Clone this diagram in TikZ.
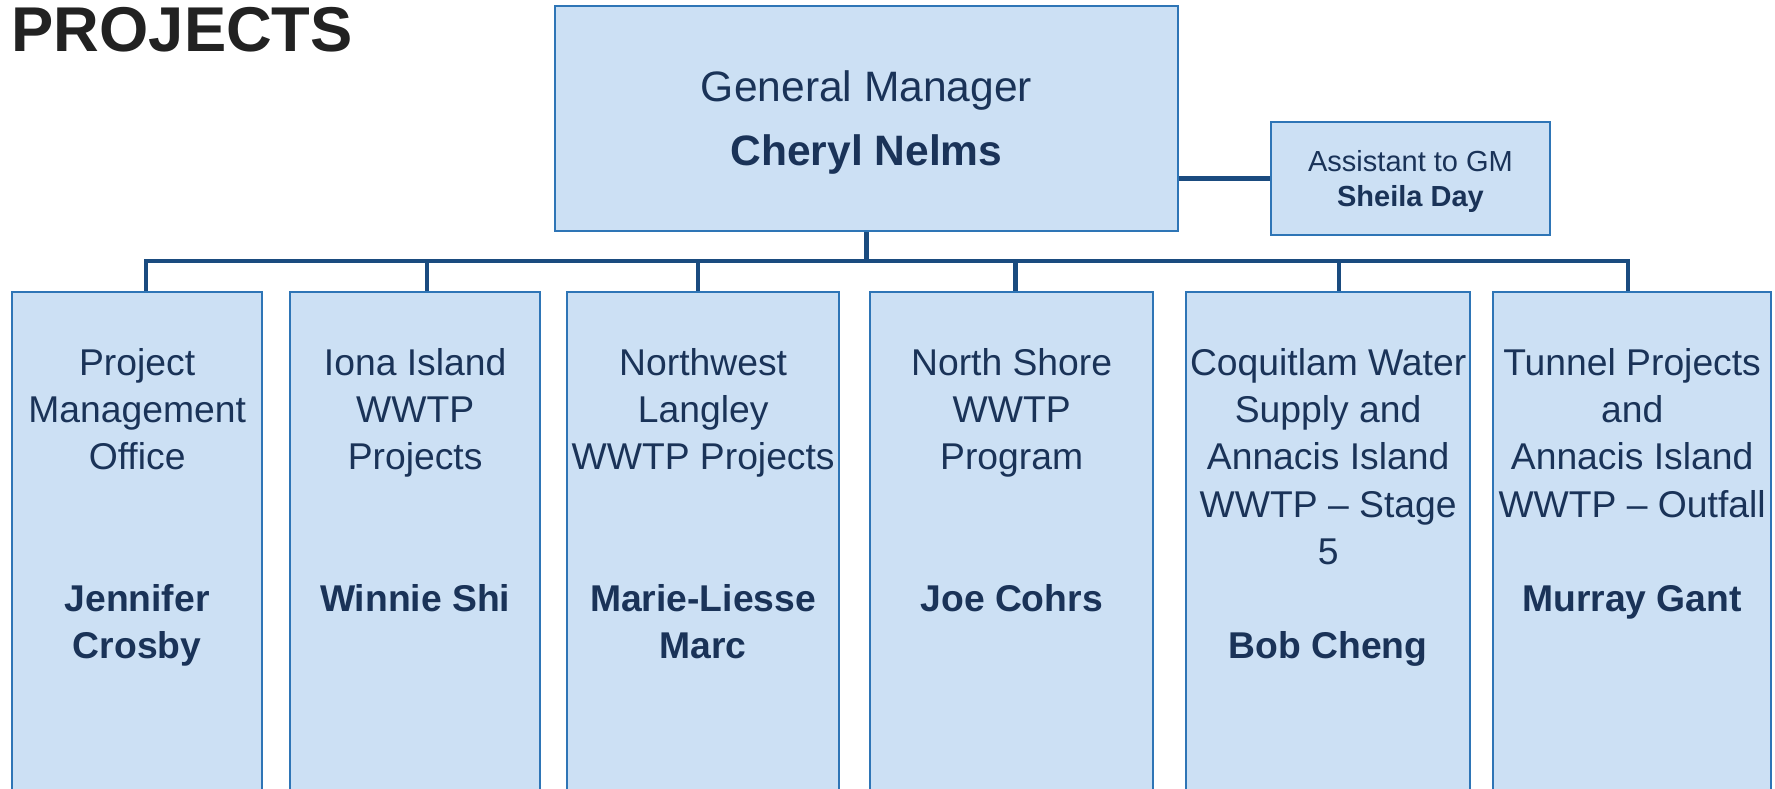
\documentclass[tikz,border=0pt]{standalone}
\usepackage{fontspec}
\setmainfont{Liberation Sans}
\usetikzlibrary{positioning,calc}
\definecolor{boxfill}{HTML}{CCE0F4}
\definecolor{boxline}{HTML}{2E75B6}
\definecolor{linkblue}{HTML}{1A4B7F}
\definecolor{navy}{HTML}{1A3358}
\definecolor{ink}{HTML}{222222}
\begin{document}
\begin{tikzpicture}[x=0.01cm,y=-0.01cm,
   unit/.style={draw=boxline,fill=boxfill,line width=0.6pt,inner sep=0pt,
                minimum height=5.19cm,anchor=north west},
   lbl/.style={inner sep=0pt,align=center,text=navy,font=\fontsize{10.6}{13.4}\selectfont},
   link/.style={draw=linkblue,line width=1.3pt}]
  \useasboundingbox (0,0) rectangle (1775,789);
  \clip (0,0) rectangle (1775,789);
  \node[anchor=base west,inner sep=0pt,text=ink,font=\fontsize{18}{22}\selectfont\bfseries] (title) at (11,52) {PROJECTS};
  % top level
  \node[draw=boxline,fill=boxfill,line width=0.6pt,minimum width=6.23cm,minimum height=2.25cm,
        align=center,text depth=0pt,text=navy,font=\fontsize{12.1}{18.2}\selectfont] (gm) at (866.5,118.5)
        {General Manager\\\textbf{Cheryl Nelms}};
  \node[draw=boxline,fill=boxfill,line width=0.6pt,minimum width=2.79cm,minimum height=1.13cm,
        align=center,text depth=0pt,text=navy,font=\fontsize{8.25}{10}\selectfont] (asst) at (1410.5,178.5)
        {Assistant to GM\\\textbf{Sheila Day}};
  % project units
  \node[unit,minimum width=2.50cm] (pmo) at (11,291) {};
  \node[unit,minimum width=2.50cm] (iona) at (289,291) {};
  \node[unit,minimum width=2.72cm] (nwl) at (566,291) {};
  \node[unit,minimum width=2.83cm] (nshore) at (869,291) {};
  \node[unit,minimum width=2.84cm] (coq) at (1185,291) {};
  \node[unit,minimum width=2.78cm] (tunnel) at (1492,291) {};
  \node[lbl,below=0.57cm of pmo.north] (pmo-t)
    {Project\\Management\\Office\\[26.8pt]\textbf{Jennifer}\\\textbf{Crosby}};
  \node[lbl,below=0.57cm of iona.north] (iona-t)
    {Iona Island\\WWTP\\Projects\\[26.8pt]\textbf{Winnie Shi}};
  \node[lbl,below=0.57cm of nwl.north] (nwl-t)
    {Northwest\\Langley\\WWTP Projects\\[26.8pt]\textbf{Marie-Liesse}\\\textbf{Marc}};
  \node[lbl,below=0.57cm of nshore.north] (nshore-t)
    {North Shore\\WWTP\\Program\\[26.8pt]\textbf{Joe Cohrs}};
  \node[lbl,below=0.57cm of coq.north] (coq-t)
    {Coquitlam Water\\Supply and\\Annacis Island\\WWTP – Stage\\5\\[13.4pt]\textbf{Bob Cheng}};
  \node[lbl,below=0.57cm of tunnel.north] (tunnel-t)
    {Tunnel Projects\\and\\Annacis Island\\WWTP – Outfall\\[13.4pt]\textbf{Murray Gant}};
  % connectors
  \coordinate (bus) at ($(gm.south)+(0,29)$);
  \draw[link] (asst.west) -- (asst.west -| gm.east);
  \draw[link] (gm.south) -- (bus);
  \draw[link] ([xshift=0.09cm]pmo.north) |- ([xshift=-0.04cm]tunnel.north |- bus)
    -- ([xshift=-0.04cm]tunnel.north);
  \foreach \u/\dx in {iona/0.12,nwl/-0.05,nshore/0.04,coq/0.11}
    \draw[link] ([xshift=\dx cm]\u.north) -- ([xshift=\dx cm]\u.north |- bus);
\end{tikzpicture}
\end{document}
